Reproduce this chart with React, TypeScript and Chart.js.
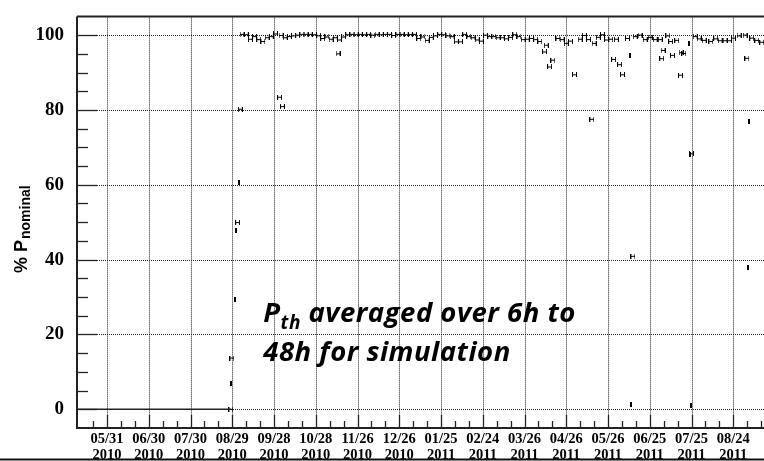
import React, { useEffect, useRef } from "react";
import { Chart, registerables } from "chart.js";

Chart.register(...registerables);

// x values are days counted from 05/31/2010
const majorDays = [0, 30, 60, 90, 120, 150, 180, 210, 240, 270, 300, 330, 360, 390, 420, 450];
const tickDates = ["05/31", "06/30", "07/30", "08/29", "09/28", "10/28", "11/26", "12/26", "01/25", "02/24", "03/26", "04/26", "05/26", "06/25", "07/25", "08/24"];
const tickYears = ["2010", "2010", "2010", "2010", "2010", "2010", "2010", "2010", "2011", "2011", "2011", "2011", "2011", "2011", "2011", "2011"];
const yTicks = [0, 20, 40, 60, 80, 100];

// reactor off period (flat at zero)
const zeroDays = [-21.6, 89.0];
const zeroValues = [0, 0];

// averaged thermal power samples (H markers)
const hDays = [
  89.0, 89.7, 93.8, 95.8,
  97, 100, 103, 106, 109, 112, 115, 118, 121, 125, 128, 131, 134, 137, 140, 143, 146, 149, 152, 155, 158, 161, 164, 167, 170, 173, 176, 179, 182,
  124, 126, 166,
  185, 188, 191, 194, 197, 200, 203, 206, 209, 212, 215, 218, 221, 224, 227, 230, 233, 236, 239, 242, 245, 248, 251, 254, 257, 260, 263, 266, 269, 272, 275, 278, 281,
  284, 287, 290, 293, 296, 299, 302, 305, 308, 311, 324, 327, 330, 333, 340, 343, 346, 350, 353, 356, 359, 362, 366, 374,
  314.4, 315.6, 318, 320.4, 335.9, 348.4, 364, 368.3, 370.4, 377.9,
  379.5, 383, 386.7, 390.3, 393.9, 397.5, 403, 405, 409.4, 422.6, 425.5, 429.1, 433.9, 437.4, 440.6, 444.1, 447.3, 450.1, 454.2, 458.5, 463.3, 466.9, 470.5,
  398.6, 399.6, 406.3, 412.1, 412.5, 414.5, 419.9, 459.8,
];
const hValues = [
  0, 13.7, 49.9, 80.2,
  100.2, 100.1, 98.9, 99.6, 98.8, 98.3, 99.3, 99.6, 100.3, 99.9, 99.3, 99.6, 99.8, 100.0, 100.2, 100.2, 100.2, 100.1, 99.8, 99.1, 99.5, 98.9, 99.3, 98.7, 99.5, 100.1, 100.2, 100.1, 100.2,
  83.4, 80.9, 95.0,
  100.1, 100.2, 100.0, 100.2, 100.1, 100.2, 100.2, 99.9, 100.2, 100.2, 100.1, 100.2, 100.2, 99.1, 99.5, 98.6, 99.4, 99.8, 100.2, 100.1, 99.8, 99.6, 98.2, 98.2, 100.2, 99.6, 99.3, 98.7, 98.4, 100.0, 99.6, 99.6, 99.3,
  99.3, 99.0, 99.4, 100.1, 99.6, 98.8, 98.9, 99.1, 98.8, 98.3, 99.1, 98.8, 97.8, 98.4, 98.9, 99.9, 98.8, 97.8, 99.4, 100.1, 98.7, 98.9, 98.9, 99.1,
  95.5, 97.3, 91.5, 93.3, 89.4, 77.5, 93.5, 92.1, 89.4, 40.9,
  99.6, 100.0, 98.8, 99.4, 98.8, 98.8, 99.8, 98.3, 98.6, 99.6, 99.0, 98.6, 98.3, 99.0, 98.5, 98.5, 98.5, 99.2, 99.8, 100.0, 99.2, 98.6, 98.1,
  93.7, 95.9, 94.6, 89.3, 95.3, 95.1, 68.3, 93.8,
];

// samples drawn as narrow bars (I markers)
const iDays = [89.0, 91.7, 92.6, 95.0, 375.9, 376.6, 418.1, 419.2, 419.5, 460.9, 461.6];
const iValues = [7.0, 29.4, 47.8, 60.6, 94.6, 1.3, 97.7, 68.0, 1.1, 38.0, 76.8];

const X_MIN = -21.6;
const X_MAX = 480;
const Y_MIN = -5;
const Y_MAX = 105;

function makeH(): HTMLCanvasElement {
  const c = document.createElement("canvas");
  c.width = 5;
  c.height = 5;
  const g = c.getContext("2d")!;
  g.fillStyle = "#000";
  g.fillRect(0, 0, 1, 5);
  g.fillRect(4, 0, 1, 5);
  g.fillRect(0, 2, 5, 1);
  return c;
}

function makeI(): HTMLCanvasElement {
  const c = document.createElement("canvas");
  c.width = 2;
  c.height = 5;
  const g = c.getContext("2d")!;
  g.fillStyle = "#000";
  g.fillRect(0, 0, 2, 5);
  return c;
}

const rootPlugin = {
  id: "rootStyle",
  beforeDatasetsDraw(chart: any) {
    const { ctx, chartArea } = chart;
    const xs = chart.scales.x;
    const ys = chart.scales.y;
    ctx.save();
    ctx.strokeStyle = "#222";
    ctx.lineWidth = 1;
    ctx.setLineDash([1, 1]);
    for (const d of majorDays) {
      const px = Math.round(xs.getPixelForValue(d)) + 0.5;
      ctx.beginPath();
      ctx.moveTo(px, chartArea.top);
      ctx.lineTo(px, chartArea.bottom);
      ctx.stroke();
    }
    for (const v of yTicks) {
      const py = Math.round(ys.getPixelForValue(v)) + 0.5;
      ctx.beginPath();
      ctx.moveTo(chartArea.left, py);
      ctx.lineTo(chartArea.right, py);
      ctx.stroke();
    }
    ctx.restore();
  },
  afterDatasetsDraw(chart: any) {
    const { ctx, chartArea } = chart;
    const xs = chart.scales.x;
    const ys = chart.scales.y;
    ctx.save();
    ctx.setLineDash([]);
    ctx.strokeStyle = "#222";
    // ticks on x axis (every 10 days, major every 30)
    ctx.lineWidth = 1.3;
    for (let d = Math.ceil(X_MIN / 10) * 10; d <= X_MAX; d += 10) {
      const px = Math.round(xs.getPixelForValue(d)) + 0.5;
      if (px < chartArea.left + 3) continue;
      const len = d % 30 === 0 ? 13 : 7;
      ctx.beginPath();
      ctx.moveTo(px, chartArea.bottom);
      ctx.lineTo(px, chartArea.bottom - len);
      ctx.stroke();
    }
    // ticks on y axis (every 5, major every 20)
    for (let v = 0; v <= 100; v += 5) {
      const py = Math.round(ys.getPixelForValue(v)) + 0.5;
      const len = v % 20 === 0 ? 20 : 11;
      ctx.beginPath();
      ctx.moveTo(chartArea.left, py);
      ctx.lineTo(chartArea.left + len, py);
      ctx.stroke();
    }
    // frame
    ctx.lineWidth = 2;
    ctx.beginPath();
    ctx.moveTo(chartArea.left, chartArea.top);
    ctx.lineTo(chartArea.right, chartArea.top);
    ctx.moveTo(chartArea.left, chartArea.top);
    ctx.lineTo(chartArea.left, chartArea.bottom);
    ctx.lineTo(chartArea.right, chartArea.bottom);
    ctx.stroke();

    // y-axis title
    ctx.fillStyle = "#000";
    ctx.save();
    ctx.translate(chartArea.left - 50, 273);
    ctx.rotate(-Math.PI / 2);
    ctx.font = 'bold 18px "Liberation Sans"';
    ctx.textBaseline = "alphabetic";
    ctx.fillText("% P", 0, 0);
    const w = ctx.measureText("% P").width;
    ctx.font = 'bold 14px "Liberation Sans"';
    ctx.fillText("nominal", w + 1, 3);
    ctx.restore();

    // annotation
    const ax = xs.getPixelForValue(112.3);
    const ay1 = ys.getPixelForValue(23.2);
    const ay2 = ys.getPixelForValue(12.9);
    (ctx as any).letterSpacing = "0.5px";
    ctx.font = 'italic bold 27.5px "Open Sans"';
    ctx.fillText("P", ax, ay1);
    const pw = ctx.measureText("P").width;
    ctx.font = 'italic bold 19px "Open Sans"';
    ctx.fillText("th", ax + pw, ay1 + 7);
    const tw = ctx.measureText("th").width;
    ctx.font = 'italic bold 27.5px "Open Sans"';
    ctx.fillText(" averaged over 6h to", ax + pw + tw, ay1);
    ctx.fillText("48h for simulation", ax, ay2);
    (ctx as any).letterSpacing = "0px";

    // bottom border line of the picture
    ctx.fillStyle = "#111";
    ctx.fillRect(0, chart.height - 2.5, chart.width, 2);
    ctx.restore();
  },
};

export default function App() {
  const ref = useRef<HTMLCanvasElement | null>(null);
  useEffect(() => {
    if (!ref.current) return;
    const hStyle = makeH();
    const iStyle = makeI();
    const chart = new Chart(ref.current, {
      type: "scatter",
      data: {
        datasets: [
          {
            type: "line",
            data: zeroDays.map((d, i) => ({ x: d, y: zeroValues[i] })),
            borderColor: "#222",
            borderWidth: 1.5,
            pointRadius: 0,
            showLine: true,
          } as any,
          {
            data: hDays.map((d, i) => ({ x: d, y: hValues[i] })),
            pointStyle: hStyle as any,
            pointRadius: 3,
          },
          {
            data: iDays.map((d, i) => ({ x: d, y: iValues[i] })),
            pointStyle: iStyle as any,
            pointRadius: 3,
          },
        ],
      },
      options: {
        animation: false,
        responsive: false,
        events: [],
        layout: { padding: { top: 9, right: 25, bottom: 0, left: 0 } },
        plugins: { legend: { display: false }, tooltip: { enabled: false } },
        scales: {
          x: {
            type: "linear",
            min: X_MIN,
            max: X_MAX,
            grid: { display: false },
            border: { display: false },
            afterBuildTicks: (s: any) => {
              s.ticks = majorDays.map((v) => ({ value: v }));
            },
            afterFit: (s: any) => {
              s.height = 33;
            },
            ticks: {
              autoSkip: false,
              maxRotation: 0,
              minRotation: 0,
              padding: -4.5,
              color: "#000",
              font: { family: '"Liberation Serif"', weight: "bold", size: 14.5, lineHeight: 1.08 },
              callback: (v: any) => {
                const i = majorDays.indexOf(Number(v));
                return i >= 0 ? [tickDates[i], tickYears[i]] : "";
              },
            },
          },
          y: {
            type: "linear",
            min: Y_MIN,
            max: Y_MAX,
            grid: { display: false },
            border: { display: false },
            afterBuildTicks: (s: any) => {
              s.ticks = yTicks.map((v) => ({ value: v }));
            },
            afterFit: (s: any) => {
              s.width = 77;
            },
            ticks: {
              padding: 5,
              color: "#000",
              font: { family: '"Liberation Serif"', weight: "bold", size: 19 },
              callback: (v: any) => String(v),
            },
          },
        },
      },
      plugins: [rootPlugin],
    });
    return () => chart.destroy();
  }, []);
  return (
    <div style={{ position: "fixed", left: 0, top: 0, width: 764, height: 461, overflow: "hidden", background: "#fff" }}>
      <canvas ref={ref} width={800} height={461} style={{ width: 800, height: 461, display: "block" }} />
    </div>
  );
}
